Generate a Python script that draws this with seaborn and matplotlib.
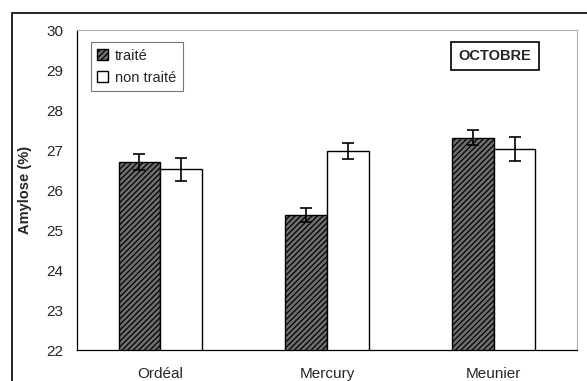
import matplotlib
matplotlib.use("Agg")
import matplotlib.pyplot as plt
import seaborn as sns
import pandas as pd
from matplotlib.patches import Rectangle, Patch

# values
varietes = ["Ordéal", "Mercury", "Meunier"]
traite = [26.70, 25.38, 27.31]
non_traite = [26.52, 26.98, 27.04]
err_traite = [0.20, 0.18, 0.19]
err_non_traite = [0.29, 0.20, 0.30]
groupes = ["traité", "non traité"]

df = pd.DataFrame({
    "variete": varietes * 2,
    "groupe": [groupes[0]] * 3 + [groupes[1]] * 3,
    "amylose": traite + non_traite,
})

sns.set_style("white")
plt.rcParams["font.family"] = ["Liberation Sans", "DejaVu Sans"]
plt.rcParams["hatch.linewidth"] = 0.9

fig = plt.figure(figsize=(5.87, 3.81), dpi=100)
ax = fig.add_axes([0.131, 0.081, 0.852, 0.84])

sns.barplot(data=df, x="variete", y="amylose", hue="groupe", order=varietes,
            hue_order=groupes, palette=["#6e6e6e", "white"], width=0.5,
            edgecolor="black", linewidth=1.0, errorbar=None, legend=False, ax=ax)

# hatch the treated bars, add error bars from the bar positions
bar_groups = list(ax.containers)
for i, cont in enumerate(bar_groups):
    errs = err_traite if i == 0 else err_non_traite
    for bar, e in zip(cont.patches, errs):
        if i == 0:
            bar.set_hatch("//////")
        xc = bar.get_x() + bar.get_width() / 2
        ax.errorbar(xc, bar.get_y() + bar.get_height(), yerr=e, color="black",
                    capsize=4, elinewidth=1.2, capthick=1.2, zorder=5)

ax.set_ylim(22, 30)
ax.set_xlim(-0.5, 2.5)
ax.set_yticks(range(22, 31))
ax.set_xticks([-0.5, 0.5, 1.5, 2.5], minor=True)
ax.tick_params(axis="x", which="major", length=0, labelsize=11, pad=12)
ax.tick_params(axis="x", which="minor", length=4, direction="out", width=0.8)
ax.tick_params(axis="y", length=4, direction="out", labelsize=11, width=0.8, pad=6)
ax.set_xlabel("")
ax.set_ylabel("Amylose (%)", fontsize=10.5, fontweight="bold", labelpad=10)

for side in ["top", "right"]:
    ax.spines[side].set_color("#b0b0b0")
    ax.spines[side].set_linewidth(0.8)
for side in ["left", "bottom"]:
    ax.spines[side].set_color("black")
    ax.spines[side].set_linewidth(0.9)

handles = [Patch(facecolor="#6e6e6e", edgecolor="black", hatch="//////"),
           Patch(facecolor="white", edgecolor="black")]
leg = ax.legend(handles, groupes, loc="upper left", bbox_to_anchor=(0.028, 0.9625),
                borderaxespad=0, fontsize=10.5, frameon=True, fancybox=False,
                edgecolor="#555555", handlelength=0.7, handleheight=0.7,
                handletextpad=0.5, borderpad=0.45, labelspacing=0.55)
leg.get_frame().set_linewidth(0.8)

ax.text(0.836, 0.919, "OCTOBRE", transform=ax.transAxes, ha="center", va="center",
        fontsize=10.5, fontweight="bold",
        bbox=dict(boxstyle="square,pad=0.5", facecolor="white", edgecolor="black", linewidth=1.2))

# outer frame of the chart
fig.patches.append(Rectangle((12 / 587, -0.01), 1.0, 1 - 13 / 381 + 0.01,
                             transform=fig.transFigure, fill=False,
                             edgecolor="black", linewidth=1.2))

fig.savefig("out.png", dpi=100)
